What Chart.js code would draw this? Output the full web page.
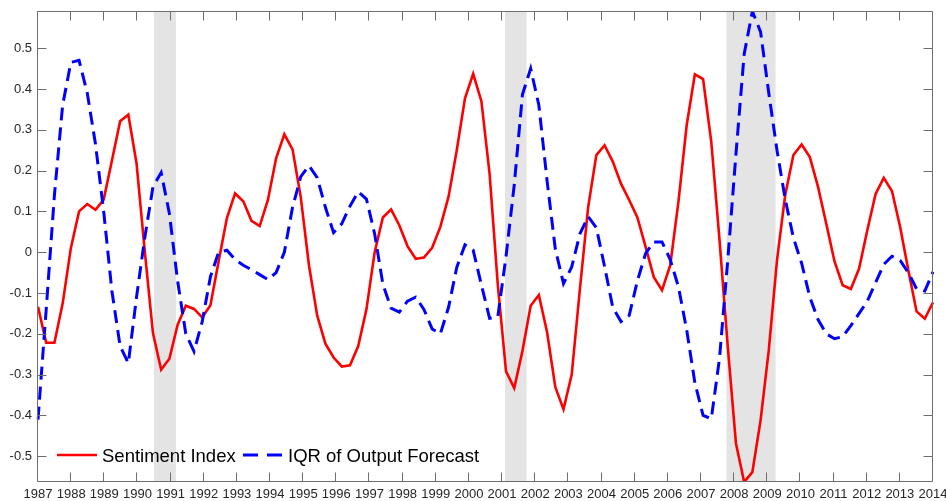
<!DOCTYPE html>
<html>
<head>
<meta charset="utf-8">
<script src="https://cdn.jsdelivr.net/npm/chart.js@4.4.1/dist/chart.umd.min.js"></script>
<style>
  html, body { margin: 0; padding: 0; background: #ffffff; }
  #wrap { width: 946px; height: 501px; }
</style>
</head>
<body>
<div id="wrap"><canvas id="c" width="946" height="501"></canvas></div>
<script>
// ---- data (quarterly, 1987Q1 .. 2014Q2) ----
const quarterLabels = [];
for (let y = 1987; y <= 2014; y++) {
  for (let q = 1; q <= 4; q++) {
    if (y === 2014 && q > 2) break;
    quarterLabels.push(y + 'Q' + q);
  }
}

const sentimentIndex = [
  -0.134, -0.222, -0.222, -0.126, 0.010, 0.100, 0.118, 0.104, 0.129, 0.224,
  0.321, 0.337, 0.218, 0.003, -0.198, -0.288, -0.261, -0.178, -0.131, -0.139,
  -0.160, -0.130, -0.022, 0.083, 0.144, 0.125, 0.077, 0.064, 0.128, 0.230,
  0.289, 0.252, 0.135, -0.032, -0.155, -0.224, -0.258, -0.280, -0.277, -0.230,
  -0.140, 0.000, 0.085, 0.105, 0.066, 0.015, -0.016, -0.013, 0.011, 0.062,
  0.136, 0.250, 0.377, 0.437, 0.370, 0.192, -0.080, -0.292, -0.333, -0.242,
  -0.131, -0.105, -0.196, -0.330, -0.385, -0.300, -0.090, 0.110, 0.238, 0.262,
  0.222, 0.168, 0.128, 0.085, 0.013, -0.061, -0.093, -0.032, 0.124, 0.311,
  0.436, 0.424, 0.270, 0.030, -0.230, -0.468, -0.563, -0.539, -0.412, -0.240,
  -0.020, 0.140, 0.238, 0.264, 0.233, 0.160, 0.070, -0.022, -0.081, -0.090,
  -0.040, 0.054, 0.142, 0.182, 0.150, 0.062, -0.045, -0.145, -0.163, -0.123
];

const iqrOutputForecast = [
  -0.410, -0.140, 0.140, 0.360, 0.465, 0.470, 0.390, 0.265, 0.100, -0.095,
  -0.230, -0.272, -0.110, 0.035, 0.160, 0.195, 0.095, -0.070, -0.200, -0.243,
  -0.170, -0.060, 0.000, 0.005, -0.018, -0.032, -0.043, -0.055, -0.067, -0.050,
  0.000, 0.110, 0.185, 0.212, 0.183, 0.110, 0.048, 0.070, 0.113, 0.148,
  0.130, 0.045, -0.078, -0.137, -0.147, -0.120, -0.110, -0.140, -0.188, -0.200,
  -0.135, -0.037, 0.018, 0.005, -0.080, -0.162, -0.158, -0.010, 0.165, 0.386,
  0.450, 0.360, 0.175, 0.008, -0.077, -0.036, 0.045, 0.087, 0.060, -0.035,
  -0.135, -0.170, -0.155, -0.070, -0.003, 0.025, 0.025, -0.018, -0.085, -0.190,
  -0.320, -0.400, -0.408, -0.260, -0.020, 0.240, 0.485, 0.590, 0.540, 0.390,
  0.250, 0.130, 0.035, -0.027, -0.110, -0.165, -0.200, -0.212, -0.207, -0.180,
  -0.150, -0.120, -0.075, -0.030, -0.010, -0.020, -0.050, -0.090, -0.095, -0.048
];

const yearTicks = [1987, 1988, 1989, 1990, 1991, 1992, 1993, 1994, 1995, 1996,
  1997, 1998, 1999, 2000, 2001, 2002, 2003, 2004, 2005, 2006, 2007, 2008, 2009,
  2010, 2011, 2012, 2013, 2014];
const yTicks = [-0.5, -0.4, -0.3, -0.2, -0.1, 0, 0.1, 0.2, 0.3, 0.4, 0.5];
const yTickLabels = ['-0.5', '-0.4', '-0.3', '-0.2', '-0.1', '0', '0.1', '0.2', '0.3', '0.4', '0.5'];

const recessionStart = [1990.5, 2001.09, 2007.77];
const recessionEnd = [1991.16, 2001.74, 2009.25];

const seriesNames = ['Sentiment Index', 'IQR of Output Forecast'];

// ---- styles ----
const FONT = "'Liberation Sans', Arial, Helvetica, sans-serif";
const AXIS_COLOR = '#6e6e6e';
const TICK_TEXT = '#262626';
const TICK_LEN = 9;

const recessionPlugin = {
  id: 'recessions',
  beforeDatasetsDraw(chart) {
    const { ctx, chartArea } = chart;
    const xs = chart.scales.x2;
    ctx.save();
    ctx.fillStyle = '#e4e4e4';
    for (let i = 0; i < recessionStart.length; i++) {
      const x0 = xs.getPixelForValue(recessionStart[i]);
      const x1 = xs.getPixelForValue(recessionEnd[i]);
      ctx.fillRect(x0, chartArea.top, x1 - x0, chartArea.bottom - chartArea.top);
    }
    ctx.restore();
  }
};

const framePlugin = {
  id: 'frame',
  afterDatasetsDraw(chart) {
    const { ctx, chartArea } = chart;
    const xs = chart.scales.x2, ys = chart.scales.y;
    const L = Math.round(chartArea.left) - 0.5, R = Math.round(chartArea.right) - 0.5;
    const T = Math.round(chartArea.top) + 0.5, B = Math.round(chartArea.bottom) - 0.5;
    ctx.save();
    ctx.strokeStyle = AXIS_COLOR;
    ctx.lineWidth = 1;
    ctx.beginPath();
    ctx.rect(L, T, R - L, B - T);
    yearTicks.forEach(v => {
      const px = Math.round(xs.getPixelForValue(v)) - 0.5;
      ctx.moveTo(px, B); ctx.lineTo(px, B - TICK_LEN);
      ctx.moveTo(px, T); ctx.lineTo(px, T + TICK_LEN);
    });
    yTicks.forEach(v => {
      const py = Math.round(ys.getPixelForValue(v)) + 0.5;
      ctx.moveTo(L, py); ctx.lineTo(L + TICK_LEN, py);
      ctx.moveTo(R, py); ctx.lineTo(R - TICK_LEN, py);
    });
    ctx.stroke();
    ctx.restore();
  }
};

const legendPlugin = {
  id: 'insideLegend',
  afterDraw(chart) {
    const { ctx, chartArea } = chart;
    const ds = chart.data.datasets;
    const baseY = chartArea.bottom - 20.5;   // baseline of legend text
    const lineY = chartArea.bottom - 27;     // sample line position
    const items = [
      { x0: chartArea.left + 19, x1: chartArea.left + 59, tx: chartArea.left + 64, dash: [] },
      { x0: chartArea.left + 205, x1: chartArea.left + 246, tx: chartArea.left + 250, dash: [15, 9] }
    ];
    ctx.save();
    items.forEach((it, i) => {
      ctx.beginPath();
      ctx.strokeStyle = ds[i].borderColor;
      ctx.lineWidth = ds[i].borderWidth;
      ctx.lineCap = 'butt';
      ctx.setLineDash(it.dash);
      ctx.moveTo(it.x0, lineY);
      ctx.lineTo(it.x1, lineY);
      ctx.stroke();
      ctx.setLineDash([]);
      ctx.fillStyle = '#000000';
      ctx.font = '18.5px ' + FONT;
      ctx.textBaseline = 'alphabetic';
      ctx.textAlign = 'left';
      ctx.fillText(ds[i].label, it.tx, baseY);
    });
    ctx.restore();
  }
};

new Chart(document.getElementById('c'), {
  type: 'line',
  data: {
    labels: quarterLabels,
    datasets: [
      {
        label: seriesNames[0],
        data: sentimentIndex,
        borderColor: '#ff0000',
        borderWidth: 2.6,
        pointRadius: 0,
        tension: 0,
        fill: false,
        order: 1
      },
      {
        label: seriesNames[1],
        data: iqrOutputForecast,
        borderColor: '#0000ff',
        borderWidth: 3,
        borderDash: [13, 7],
        borderCapStyle: 'butt',
        pointRadius: 0,
        tension: 0,
        fill: false,
        order: 0
      }
    ]
  },
  options: {
    responsive: false,
    animation: false,
    devicePixelRatio: 1,
    events: [],
    layout: { padding: { top: 11, right: 13, left: 0, bottom: 0 } },
    plugins: { legend: { display: false }, tooltip: { enabled: false }, title: { display: false } },
    scales: {
      x: { type: 'category', display: false, offset: false },
      x2: {
        type: 'linear',
        position: 'bottom',
        min: 1987,
        max: 2014,
        bounds: 'data',
        afterBuildTicks: s => { s.ticks = yearTicks.map(v => ({ value: v })); },
        afterFit: s => { s.height = 19; s.paddingLeft = 0; s.paddingRight = 0; },
        grid: { display: false, drawTicks: false },
        border: { display: false },
        ticks: {
          autoSkip: false,
          maxRotation: 0,
          padding: 5,
          color: TICK_TEXT,
          font: { family: FONT, size: 13 },
          callback: v => String(v)
        }
      },
      y: {
        type: 'linear',
        min: -0.563,
        max: 0.591,
        bounds: 'data',
        afterBuildTicks: s => { s.ticks = yTicks.map(v => ({ value: v })); },
        afterFit: s => { s.width = 38; s.paddingTop = 0; s.paddingBottom = 0; },
        grid: { display: false, drawTicks: false },
        border: { display: false },
        ticks: {
          autoSkip: false,
          padding: 6,
          color: TICK_TEXT,
          font: { family: FONT, size: 13 },
          callback: (v, i) => yTickLabels[i]
        }
      }
    }
  },
  plugins: [recessionPlugin, framePlugin, legendPlugin]
});
</script>
</body>
</html>
